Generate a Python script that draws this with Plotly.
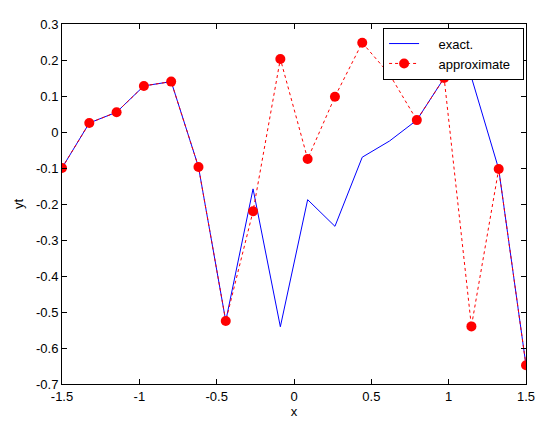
import numpy as np
import plotly.graph_objects as go

x_vals = np.linspace(-1.5, 1.5, 18)
exact_y = [-0.100, 0.025, 0.055, 0.128, 0.140, -0.097, -0.525, -0.158, -0.541,
           -0.188, -0.262, -0.070, -0.025, 0.033, 0.150, 0.152, -0.103, -0.648]
approx_y = [-0.100, 0.025, 0.055, 0.128, 0.140, -0.097, -0.525, -0.220, 0.203,
            -0.075, 0.098, 0.248, 0.160, 0.033, 0.150, -0.540, -0.103, -0.648]
x_ticks = [-1.5, -1, -0.5, 0, 0.5, 1, 1.5]
y_ticks = [-0.7, -0.6, -0.5, -0.4, -0.3, -0.2, -0.1, 0, 0.1, 0.2, 0.3]
series_names = ["exact.", "approximate"]

FONT = "Liberation Sans, Arial"
PAD = "\u00a0" * 4
TAIL = "\u00a0" * 2

fig = go.Figure()
fig.add_trace(go.Scatter(x=x_vals, y=exact_y, mode="lines", name=PAD + series_names[0],
                         line=dict(color="#0000ff", width=1)))
fig.add_trace(go.Scatter(x=x_vals, y=approx_y, mode="lines+markers",
                         name=PAD + series_names[1] + TAIL,
                         line=dict(color="#ff0000", width=1, dash="3px,3px"),
                         marker=dict(color="#ff0000", size=10, symbol="circle")))

axis_common = dict(showgrid=False, zeroline=False, showline=True, linecolor="black",
                   linewidth=1, mirror="ticks", ticks="inside", ticklen=5,
                   tickcolor="black", tickfont=dict(family=FONT, size=13, color="black"))
fig.update_xaxes(range=[-1.5, 1.5], tickvals=x_ticks, ticktext=[str(v) for v in x_ticks],
                 title=dict(text="x", font=dict(family=FONT, size=13, color="black"), standoff=4),
                 **axis_common)
fig.update_yaxes(range=[-0.7, 0.3], tickvals=y_ticks, ticktext=[("%g" % v) for v in y_ticks],
                 title=dict(text="yt", font=dict(family=FONT, size=13, color="black"), standoff=9),
                 **axis_common)

fig.update_layout(
    width=547, height=431,
    margin=dict(l=54, r=29, t=9, b=55),
    paper_bgcolor="white", plot_bgcolor="white",
    font=dict(family=FONT, size=13, color="black"),
    legend=dict(x=0.692, y=0.99, xanchor="left", yanchor="top",
                bordercolor="black", borderwidth=1, bgcolor="white",
                font=dict(family=FONT, size=13, color="black"),
                tracegroupgap=0, itemwidth=30),
    showlegend=True,
)

fig.write_html("out.html")
